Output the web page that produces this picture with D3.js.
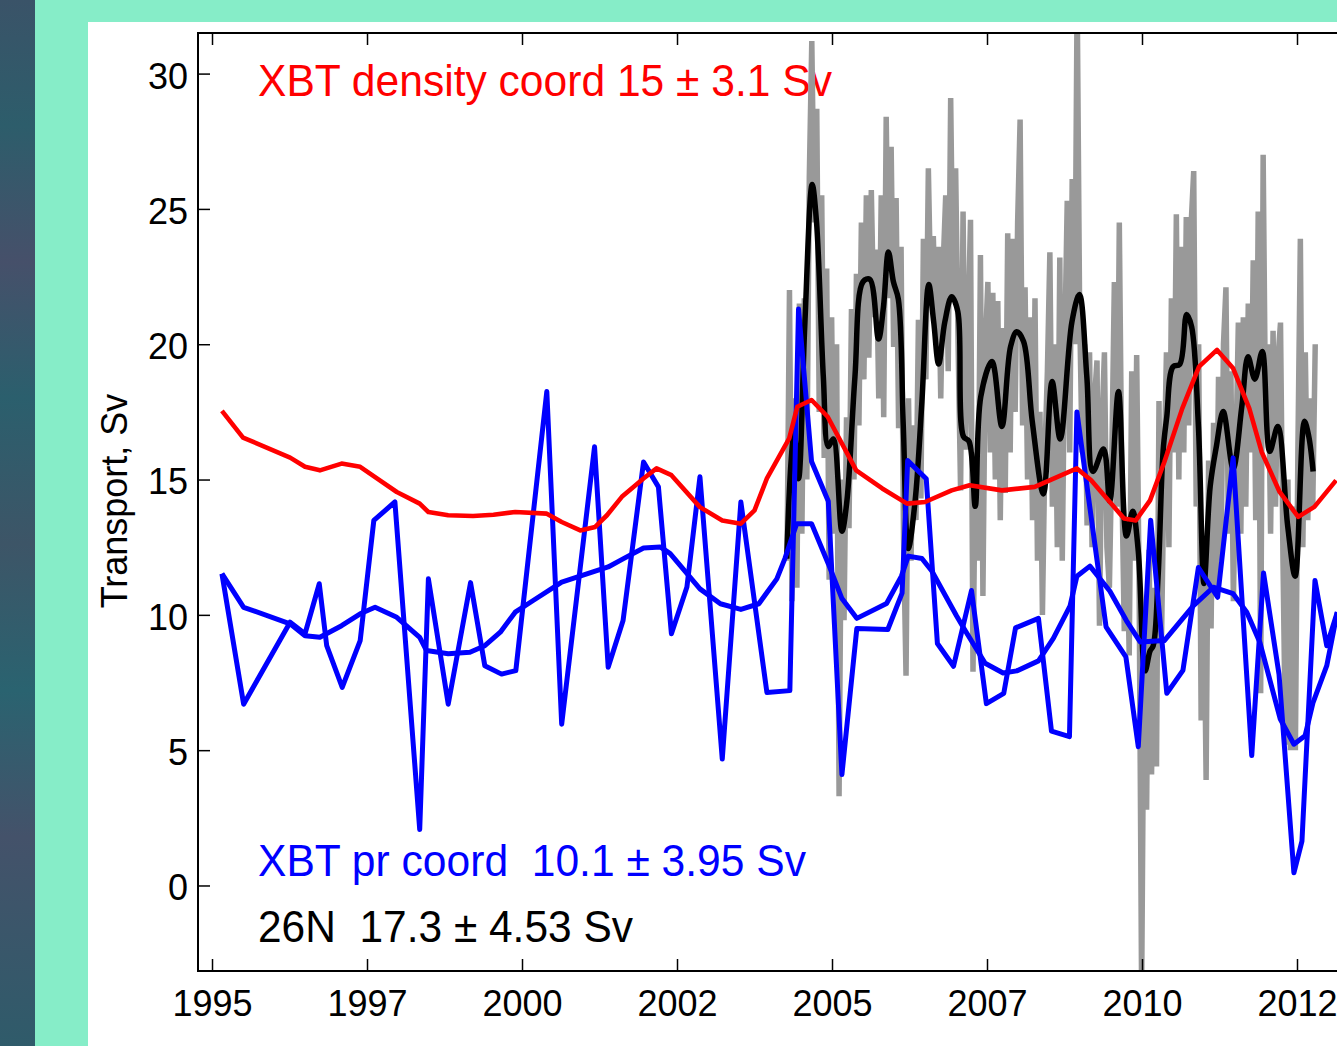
<!DOCTYPE html>
<html>
<head>
<meta charset="utf-8">
<script src="https://cdn.jsdelivr.net/npm/d3@7"></script>
<style>
html, body { margin: 0; padding: 0; background: #86edc8; }
svg { display: block; }
text { font-family: "Liberation Sans", Arial, Helvetica, sans-serif; }
</style>
</head>
<body>
<div id="chart"></div>
<script>
// ---- data ----
// x ticks sit every 2.5 years, labels are the truncated year
var xTickVals = [1995, 1997.5, 2000, 2002.5, 2005, 2007.5, 2010, 2012.5];
var xTickLabels = ["1995", "1997", "2000", "2002", "2005", "2007", "2010", "2012"];
var yTickVals = [0, 5, 10, 15, 20, 25, 30];

// XBT density coordinate transport (red)
var xbtDensity = [
  [1995.16,17.54],[1995.50,16.55],[1996.26,15.81],[1996.50,15.47],[1996.74,15.34],[1997.09,15.59],
  [1997.39,15.47],[1997.66,15.04],[1997.98,14.54],[1998.35,14.11],[1998.49,13.80],[1998.81,13.68],
  [1999.21,13.65],[1999.54,13.70],[1999.89,13.80],[2000.40,13.74],[2000.64,13.43],[2000.94,13.12],
  [2001.18,13.25],[2001.37,13.68],[2001.61,14.36],[2001.96,15.04],[2002.17,15.41],[2002.41,15.16],
  [2002.87,13.98],[2003.23,13.49],[2003.53,13.37],[2003.75,13.86],[2003.95,15.04],[2004.31,16.52],
  [2004.44,17.69],[2004.67,17.94],[2004.93,17.32],[2005.39,15.34],[2005.81,14.67],[2006.21,14.11],
  [2006.50,14.17],[2006.93,14.60],[2007.22,14.79],[2007.74,14.60],[2008.27,14.73],[2008.95,15.41],
  [2009.18,14.97],[2009.71,13.56],[2009.90,13.49],[2010.13,14.23],[2010.36,15.65],[2010.65,17.63],
  [2010.92,19.17],[2011.21,19.79],[2011.47,19.11],[2011.73,17.63],[2011.93,16.02],[2012.22,14.54],
  [2012.52,13.62],[2012.78,13.99],[2013.13,14.97]
];

// XBT pressure coordinate transport, raw (blue)
var xbtPressure = [
  [1995.16,11.52],[1995.51,6.70],[1996.26,9.73],[1996.50,9.30],[1996.73,11.15],[1996.85,8.86],
  [1997.10,7.32],[1997.39,9.05],[1997.61,13.49],[1997.95,14.17],[1998.35,2.07],[1998.49,11.33],
  [1998.81,6.70],[1999.17,11.19],[1999.40,8.12],[1999.67,7.81],[1999.90,7.94],[2000.40,18.25],
  [2000.64,5.96],[2001.17,16.21],[2001.39,8.06],[2001.63,9.79],[2001.96,15.65],[2002.20,14.73],
  [2002.41,9.30],[2002.66,11.03],[2002.87,15.10],[2003.23,4.67],[2003.53,14.17],[2003.95,7.13],
  [2004.32,7.20],[2004.46,21.30],[2004.67,15.67],[2004.94,14.20],[2005.16,4.10],[2005.40,9.50],
  [2005.90,9.46],[2006.13,10.80],[2006.22,15.70],[2006.52,15.03],[2006.70,8.94],[2006.96,8.10],
  [2007.25,10.90],[2007.49,6.72],[2007.77,7.10],[2007.96,9.52],[2008.33,9.87],[2008.54,5.70],
  [2008.83,5.50],[2008.95,17.50],[2009.42,9.56],[2009.74,8.45],[2009.94,5.13],[2010.14,13.50],
  [2010.40,7.10],[2010.66,7.95],[2010.91,11.75],[2011.22,10.65],[2011.47,15.80],[2011.77,4.80],
  [2011.96,11.55],[2012.21,7.80],[2012.45,0.47],[2012.58,1.64],[2012.79,11.27],[2012.98,8.86],
  [2013.15,10.10]
];

// XBT pressure coordinate transport, smoothed (blue)
var xbtPressureSmooth = [
  [1995.16,11.52],[1995.51,10.28],[1996.26,9.67],[1996.50,9.23],[1996.74,9.17],[1997.09,9.60],
  [1997.39,10.04],[1997.63,10.28],[1997.98,9.91],[1998.35,9.17],[1998.46,8.68],[1998.81,8.56],
  [1999.16,8.62],[1999.40,8.86],[1999.65,9.36],[1999.89,10.10],[2000.18,10.53],[2000.64,11.21],
  [2001.39,11.77],[2001.63,12.07],[2001.96,12.47],[2002.23,12.51],[2002.39,12.26],[2002.87,10.96],
  [2003.20,10.41],[2003.53,10.20],[2003.82,10.41],[2004.11,11.33],[2004.24,12.08],[2004.43,13.37],
  [2004.67,13.37],[2004.94,11.89],[2005.16,10.60],[2005.40,9.87],[2005.88,10.42],[2006.12,11.43],
  [2006.23,12.17],[2006.45,12.08],[2006.61,11.62],[2007.01,9.96],[2007.15,9.41],[2007.47,8.21],
  [2007.76,7.85],[2007.98,7.93],[2008.33,8.30],[2008.57,9.13],[2008.84,10.33],[2008.95,11.43],
  [2009.16,11.80],[2009.48,10.88],[2009.75,9.78],[2009.97,9.00],[2010.36,9.05],[2010.83,10.34],
  [2011.15,11.02],[2011.47,10.78],[2011.69,10.10],[2011.90,8.99],[2012.23,6.15],[2012.45,5.22],
  [2012.63,5.53],[2012.76,6.77],[2012.98,8.12],[2013.15,10.10]
];

// 26N array transport, 3-month smoothed (black)
var rapidSmooth = [
  [2004.27,12.08],[2004.38,16.96],[2004.46,15.03],[2004.56,20.65],[2004.68,25.90],[2004.75,24.52],
  [2004.86,18.80],[2004.94,16.22],[2005.02,16.50],[2005.16,13.09],[2005.24,14.20],[2005.37,18.80],
  [2005.50,22.31],[2005.61,22.40],[2005.75,20.19],[2005.83,21.38],[2005.91,23.41],[2005.99,22.31],
  [2006.07,21.66],[2006.15,16.96],[2006.23,12.45],[2006.34,14.20],[2006.45,17.88],[2006.56,22.21],
  [2006.64,20.83],[2006.72,19.27],[2006.82,20.83],[2006.93,21.75],[2007.03,21.20],[2007.12,16.59],
  [2007.21,16.41],[2007.31,14.01],[2007.40,18.07],[2007.58,19.36],[2007.74,16.96],[2007.88,19.91],
  [2007.98,20.46],[2008.09,20.10],[2008.23,17.15],[2008.41,14.47],[2008.55,18.62],[2008.68,16.50],
  [2008.87,20.83],[2008.99,21.84],[2009.11,18.80],[2009.21,15.30],[2009.38,16.13],[2009.48,14.20],
  [2009.62,18.25],[2009.75,12.91],[2009.85,13.83],[2009.94,12.35],[2010.05,7.93],[2010.13,8.67],
  [2010.18,8.85],[2010.26,11.43],[2010.34,16.04],[2010.40,17.33],[2010.50,19.17],[2010.61,19.26],
  [2010.72,21.10],[2010.80,20.65],[2010.91,16.96],[2011.00,11.16],[2011.10,14.75],[2011.20,16.23],
  [2011.31,17.51],[2011.47,15.40],[2011.61,17.70],[2011.71,19.54],[2011.82,18.71],[2011.94,19.73],
  [2012.06,16.04],[2012.19,16.96],[2012.35,13.28],[2012.47,11.43],[2012.62,17.15],[2012.69,16.59],
  [2012.76,15.30]
];

// 26N array transport, raw (grey), sampled every 0.04 yr from 2004.274
var rapidStart = 2004.274;
var rapidStep = 0.04;
var rapidRaw = [
  12.0, 22.0, 10.5, 18.0, 11.0, 21.5, 13.0, 21.7, 15.0, 26.2,
  31.2, 24.5, 28.7, 17.5, 25.5, 15.8, 22.8, 11.3, 21.0, 13.0,
  20.0, 3.3, 15.0, 9.8, 17.3, 13.2, 21.3, 15.0, 22.6, 17.0,
  24.5, 18.7, 25.5, 19.5, 25.7, 21.0, 23.5, 18.0, 25.5, 17.3,
  28.4, 21.7, 27.3, 19.9, 25.4, 16.9, 23.6, 12.8, 7.75, 18.0,
  12.0, 17.0, 13.5, 20.9, 14.3, 23.9, 18.7, 26.5, 21.7, 24.0,
  20.6, 23.6, 18.0, 23.0, 25.5, 19.0, 29.1, 21.7, 26.5, 20.0,
  14.6, 24.9, 16.1, 20.6, 24.6, 7.9, 16.0, 12.0, 23.3, 10.7,
  20.0, 22.3, 16.0, 21.9, 15.0, 21.6, 13.5, 20.6, 14.5, 24.1,
  16.0, 23.9, 17.5, 24.5, 28.3, 17.0, 22.1, 15.0, 21.0, 13.5,
  21.7, 12.0, 17.5, 10.0, 16.0, 19.0, 23.4, 14.0, 20.0, 12.5,
  23.2, 12.0, 20.0, 25.3, 16.0, 26.1, 20.0, 33.0, 21.2, 16.0,
  20.0, 13.3, 19.7, 12.5, 18.0, 19.4, 9.6, 17.0, 19.7, 12.5,
  11.0, 16.0, 22.3, 14.0, 24.5, 15.0, 9.4, 13.0, 8.5, 19.0,
  12.0, 19.6, 11.0, -4.0, 9.0, 2.8, 12.4, 4.1, 11.0, 4.4,
  17.9, 9.0, 15.0, 19.7, 12.5, 21.7, 16.0, 24.8, 15.0, 23.6,
  16.0, 24.7, 17.0, 24.5, 26.4, 14.0, 20.0, 6.1, 12.0, 3.9,
  15.7, 9.5, 17.1, 11.0, 18.8, 12.0, 20.0, 22.1, 13.0, 19.0,
  10.5, 16.0, 20.8, 13.0, 21.0, 14.0, 21.5, 16.0, 23.1, 13.5,
  24.9, 7.1, 27.0, 17.0, 20.0, 13.0, 20.5, 14.0, 19.5, 20.8,
  12.0, 5.2, 15.0, 5.0, 14.0, 5.0, 16.0, 23.9, 12.5, 19.7,
  13.5, 18.0, 14.0, 20.0
];

var labels = [
  {text: "XBT density coord 15 \u00b1 3.1 Sv", color: "#ff0000", y: 96, len: 574},
  {text: "XBT pr coord  10.1 \u00b1 3.95 Sv", color: "#0000ff", y: 876, len: 548},
  {text: "26N  17.3 \u00b1 4.53 Sv", color: "#000000", y: 942, len: 375}
];

// ---- layout ----
var W = 1337, H = 1046;
var plotL = 198, plotT = 33, plotR = 1359, plotB = 971;

var svg = d3.select("#chart").append("svg")
    .attr("width", W)
    .attr("height", H);

var defs = svg.append("defs");
var grad = defs.append("linearGradient")
    .attr("id", "strip")
    .attr("x1", 0).attr("y1", 0).attr("x2", 0).attr("y2", 1);
[["0%", "#3a5368"], ["12%", "#2d5d6b"], ["25%", "#46506a"], ["38%", "#2b5f6d"],
 ["52%", "#3d5567"], ["66%", "#2a6370"], ["80%", "#44526a"], ["100%", "#2f5b6a"]]
  .forEach(function(s){
    grad.append("stop").attr("offset", s[0]).attr("stop-color", s[1]);
  });

defs.append("clipPath").attr("id", "plotclip")
  .append("rect")
    .attr("x", plotL).attr("y", plotT)
    .attr("width", plotR - plotL).attr("height", plotB - plotT);

// frame
svg.append("rect").attr("width", W).attr("height", H).attr("fill", "#86edc8");
svg.append("rect").attr("width", 35).attr("height", H).attr("fill", "url(#strip)");
svg.append("rect").attr("x", 88).attr("y", 22)
    .attr("width", W - 88).attr("height", H - 22).attr("fill", "#ffffff");

var x = d3.scaleLinear().domain([1994.774, 2013.5]).range([plotL, plotR]);
var y = d3.scaleLinear().domain([-3.16, 31.5]).range([plotB, plotT]);

// annotations sit under the curves
svg.append("g").selectAll("text")
    .data(labels)
    .enter().append("text")
    .attr("x", 258)
    .attr("y", function(d){ return d.y; })
    .attr("fill", function(d){ return d.color; })
    .attr("font-size", 43.5)
    .attr("textLength", function(d){ return d.len; })
    .attr("lengthAdjust", "spacingAndGlyphs")
    .style("white-space", "pre")
    .text(function(d){ return d.text; });

var lineXY = d3.line()
    .x(function(d){ return x(d[0]); })
    .y(function(d){ return y(d[1]); });

var plot = svg.append("g").attr("clip-path", "url(#plotclip)");

plot.append("path")
    .datum(rapidRaw)
    .attr("fill", "none")
    .attr("stroke", "#999999")
    .attr("stroke-width", 5.5)
    .attr("stroke-linejoin", "bevel")
    .attr("d", d3.line()
        .x(function(d, i){ return x(rapidStart + i * rapidStep); })
        .y(function(d){ return y(d); }));

plot.append("path")
    .datum(rapidSmooth)
    .attr("fill", "none")
    .attr("stroke", "#000000")
    .attr("stroke-width", 5.5)
    .attr("stroke-linejoin", "round")
    .attr("d", lineXY.curve(d3.curveCatmullRom.alpha(0.5)));

lineXY.curve(d3.curveLinear);

plot.append("path")
    .datum(xbtPressure)
    .attr("fill", "none")
    .attr("stroke", "#0000ff")
    .attr("stroke-width", 5)
    .attr("stroke-linejoin", "round")
    .attr("d", lineXY);

plot.append("path")
    .datum(xbtPressureSmooth)
    .attr("fill", "none")
    .attr("stroke", "#0000ff")
    .attr("stroke-width", 5)
    .attr("stroke-linejoin", "round")
    .attr("d", lineXY);

plot.append("path")
    .datum(xbtDensity)
    .attr("fill", "none")
    .attr("stroke", "#ff0000")
    .attr("stroke-width", 4.6)
    .attr("stroke-linejoin", "round")
    .attr("d", lineXY);

// axes
var xAxis = svg.append("g")
    .attr("transform", "translate(0," + plotB + ")")
    .call(d3.axisBottom(x)
        .tickValues(xTickVals)
        .tickFormat(function(d, i){ return xTickLabels[i]; })
        .tickSize(-12)
        .tickPadding(19));

var xTop = svg.append("g")
    .attr("transform", "translate(0," + plotT + ")")
    .call(d3.axisTop(x).tickValues(xTickVals).tickFormat("").tickSize(-12));

var yAxis = svg.append("g")
    .attr("transform", "translate(" + plotL + ",0)")
    .call(d3.axisLeft(y).tickValues(yTickVals).tickSize(-12).tickPadding(10));
yAxis.selectAll("text").attr("dy", "0.4em");

[xAxis, xTop, yAxis].forEach(function(a){
    a.select(".domain").remove();
    a.selectAll(".tick line").attr("stroke", "#000").attr("stroke-width", 1.5);
    a.selectAll("text")
        .attr("fill", "#000")
        .attr("font-size", 36)
        .attr("font-family", "'Liberation Sans', Arial, Helvetica, sans-serif");
});

svg.append("rect")
    .attr("x", plotL).attr("y", plotT)
    .attr("width", plotR - plotL).attr("height", plotB - plotT)
    .attr("fill", "none")
    .attr("stroke", "#000")
    .attr("stroke-width", 2);

svg.append("text")
    .attr("transform", "translate(127,501) rotate(-90)")
    .attr("text-anchor", "middle")
    .attr("font-size", 36)
    .attr("fill", "#000")
    .text("Transport, Sv");
</script>
</body>
</html>
